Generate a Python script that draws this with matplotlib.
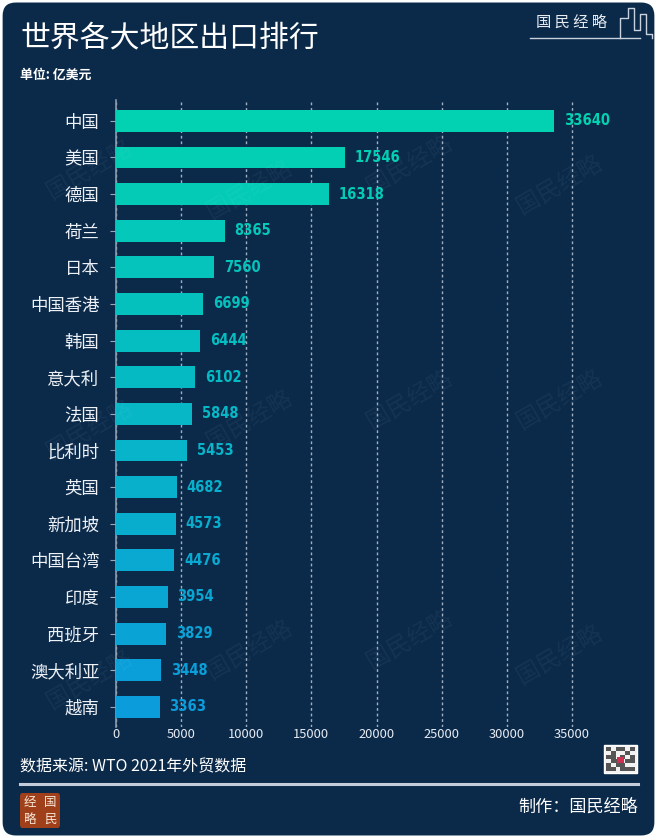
import matplotlib
matplotlib.use("Agg")
import matplotlib.pyplot as plt
from matplotlib.patches import FancyBboxPatch, Rectangle
import matplotlib.colors as mcolors
import numpy as np

plt.rcParams['font.family'] = ['Noto Sans CJK SC', 'DejaVu Sans']

categories = ["中国", "美国", "德国", "荷兰", "日本", "中国香港", "韩国", "意大利", "法国",
              "比利时", "英国", "新加坡", "中国台湾", "印度", "西班牙", "澳大利亚", "越南"]
values = [33640, 17546, 16318, 8365, 7560, 6699, 6444, 6102, 5848,
          5453, 4682, 4573, 4476, 3954, 3829, 3448, 3363]
xticks = [0, 5000, 10000, 15000, 20000, 25000, 30000, 35000]

BG = "#0b2a4a"
W, H = 657, 838
fig = plt.figure(figsize=(W / 100, H / 100), dpi=100, facecolor="white")

# rounded background
bg = FancyBboxPatch((0.004, 0.003), 0.992, 0.994, boxstyle="round,pad=0,rounding_size=0.02",
                    transform=fig.transFigure, facecolor=BG, edgecolor="none", zorder=-5,
                    mutation_aspect=W / H)
fig.patches.append(bg)

ax = fig.add_axes([116 / W, 1 - 727 / H, (598 - 116) / W, (727 - 100) / H])
ax.set_facecolor("none")
ax.set_zorder(1)

n = len(categories)
cmap = mcolors.LinearSegmentedColormap.from_list("g", ["#02d2b1", "#0b9cdb"])
colors = [cmap(i / (n - 1)) for i in range(n)]
y = np.arange(n)
ax.barh(y, values, height=0.6, color=colors, zorder=3)

for yi, v, c in zip(y, values, colors):
    ax.annotate(f"{v}", (v, yi), xytext=(7, 0), textcoords="offset points",
                va="center", ha="left", color=c, fontsize=10.5, fontweight="bold",
                family=["DejaVu Sans"], fontstretch="condensed", zorder=4)

ax.set_xlim(0, 37000)
ax.set_ylim(n - 0.45, -0.57)
ax.set_yticks(y)
ax.set_yticklabels(categories, fontsize=12.5, color="#eef2f7")
ax.set_xticks(xticks)
ax.set_xticklabels([str(t) for t in xticks], fontsize=9.3, color="#e6ebf2")
ax.tick_params(axis="y", length=4, color="#9aa8b8", pad=8)
ax.tick_params(axis="x", length=0, pad=1)
for s in ["top", "right", "bottom"]:
    ax.spines[s].set_visible(False)
ax.spines["left"].set_color("#8d9bab")
ax.spines["left"].set_linewidth(1.2)
ax.grid(axis="x", color="#c8d2de", linestyle=(0, (2, 2)), linewidth=1.0, alpha=0.8, zorder=1)
ax.set_axisbelow(True)

# watermarks
for (wx, wy) in [(90, 170), (250, 190), (410, 165), (560, 185), (250, 420), (410, 400),
                 (560, 400), (250, 650), (410, 640), (560, 655), (90, 430), (90, 680)]:
    t = fig.text(wx / W, 1 - wy / H, "国民经略", fontsize=17, color="white", alpha=0.045,
                 rotation=30, ha="center", va="center")
    t.set_zorder(5)

# title and header
fig.text(20 / W, 1 - 38 / H, "世界各大地区出口排行", fontsize=21.5, color="white",
         ha="left", va="center", fontweight="medium")
fig.text(20 / W, 1 - 75 / H, "单位: 亿美元", fontsize=9.3, color="white",
         fontweight="bold", ha="left", va="center")
fig.text(572 / W, 1 - 23 / H, "国 民 经 略", fontsize=11, color="#e6ebf2",
         ha="center", va="center", family=["Noto Sans CJK SC"])
fig.add_artist(plt.Line2D([530 / W, 640 / W], [1 - 38 / H, 1 - 38 / H],
                          transform=fig.transFigure, color="#c8d2de", linewidth=1))
# building icon
bx = [620, 620, 628, 628, 634, 634, 640, 640, 646, 646, 652, 652]
by = [38, 18, 18, 8, 8, 30, 30, 14, 14, 34, 34, 38]
fig.add_artist(plt.Line2D([v / W for v in bx], [1 - v / H for v in by],
                          transform=fig.transFigure, color="#c8d2de", linewidth=1))

# footer
fig.text(20 / W, 1 - 767 / H, "数据来源: WTO 2021年外贸数据", fontsize=11.5, color="white",
         ha="left", va="center")
fig.add_artist(plt.Line2D([20 / W, 638 / W], [1 - 784 / H, 1 - 784 / H],
                          transform=fig.transFigure, color="#c3ccd8", linewidth=2.2))
fig.text(638 / W, 1 - 807 / H, "制作：国民经略", fontsize=12.3, color="white",
         ha="right", va="center")

# QR code placeholder
qr = Rectangle((604 / W, 1 - 773 / H), 33 / W, 28 / H, transform=fig.transFigure,
               facecolor="#f2f2f2", edgecolor="white", zorder=3)
fig.patches.append(qr)
qr_pattern = [[1, 0, 1, 1, 0, 1], [0, 1, 0, 0, 1, 0], [1, 1, 0, 1, 0, 1],
              [0, 1, 1, 0, 1, 1], [1, 0, 1, 1, 0, 0], [1, 1, 0, 1, 1, 1]]
for i, row in enumerate(qr_pattern):
    for j, b in enumerate(row):
        if b:
            fig.patches.append(Rectangle(((606 + j * 4.8) / W, 1 - (747 + (i + 1) * 4.0) / H),
                                         4.8 / W, 4.0 / H, transform=fig.transFigure,
                                         facecolor="#555555", edgecolor="none", zorder=4))
fig.patches.append(Rectangle((617 / W, 1 - 763 / H), 7 / W, 6 / H, transform=fig.transFigure,
                             facecolor="#d03050", edgecolor="none", zorder=5))

# logo
logo = FancyBboxPatch((20 / W, 1 - 828 / H), 40 / W, 35 / H,
                      boxstyle="round,pad=0,rounding_size=0.004", transform=fig.transFigure,
                      facecolor="#a0401a", edgecolor="none", zorder=3)
fig.patches.append(logo)
for t, (lx, ly) in zip(["经", "国", "略", "民"], [(30, 802), (50, 802), (30, 819), (50, 819)]):
    fig.text(lx / W, 1 - ly / H, t, fontsize=9, color="#f5e6d8", ha="center", va="center",
             zorder=4)

fig.savefig("out.png", dpi=100, facecolor="white")
